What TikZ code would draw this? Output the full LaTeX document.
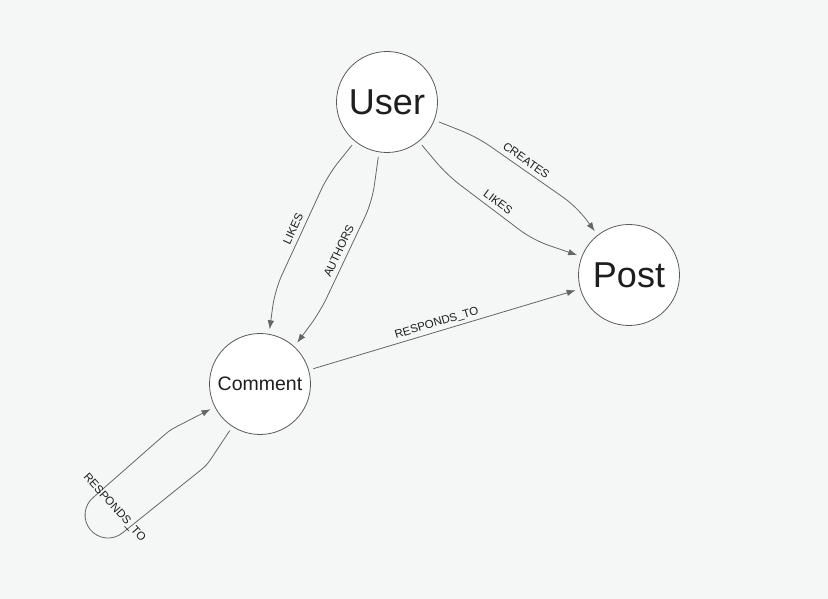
\documentclass[tikz,border=0pt]{standalone}
\usepackage{fontspec}
\setmainfont{Liberation Sans}
\usetikzlibrary{arrows.meta}
\definecolor{bg}{HTML}{F5F6F6}
\definecolor{edgec}{HTML}{666666}
\definecolor{ring}{HTML}{5A5A5A}
\definecolor{ink}{HTML}{1E1E1E}
\begin{document}
\begin{tikzpicture}[x=1pt,y=1pt,
  entity/.style={circle, draw=ring, fill=white, line width=0.8pt, minimum size=101pt, inner sep=0pt, outer sep=5pt, text=ink},
  bigtext/.style={font=\fontsize{36}{40}\selectfont},
  midtext/.style={font=\fontsize{19.5}{22}\selectfont},
  rel/.style={draw=edgec, line width=0.8pt, rounded corners=16pt, -{Latex[length=9pt,width=6.5pt]}},
  lbl/.style={font=\fontsize{11.5}{13}\selectfont, text=ink, sloped, above=1.5pt, text depth=0pt, pos=0.5},
  looplbl/.style={font=\fontsize{11.5}{13}\selectfont, text=ink, text depth=0pt, inner sep=1pt}]
\fill[bg] (0,0) rectangle (828,599);
\useasboundingbox (0,0) rectangle (828,599);

\node[entity, bigtext] (User) at (387,497) {User};
\node[entity, bigtext] (Post) at (629,324) {Post};
\node[entity, midtext] (Comment) at (260,215) {Comment};

% User -> Post
\draw[rel] (User.-21) -- (477,462) -- node[lbl, pos=0.44] (lCreates) {CREATES} (577,392) -- (Post.128);
\draw[rel] (User.-51) -- (447,424) -- node[lbl, pos=0.53] (lLikesP) {LIKES} (533,359) -- (Post.159);

% User -> Comment
\draw[rel] (User.-129) -- (328,424) -- node[lbl, pos=0.5] (lLikesC) {LIKES} (275,309) -- (Comment.80);
\draw[rel] (User.-99) -- (372,397) -- node[lbl, pos=0.48] (lAuthors) {AUTHORS} (320,287) -- (Comment.48);

% Comment -> Post
\draw[rel] (Comment.16) -- node[lbl, pos=0.48] (lResp) {RESPONDS\_TO} (Post.196);

% Comment self loop
\draw[rel, sharp corners] (Comment.237) -- (214.7,145.7) .. controls (207,134) .. (196.1,125.2)
  -- (122.5,66.1) arc[start angle=-51, end angle=-231, radius=23]
  -- (159.5,159.8) .. controls (170,169) .. (182.5,175.4) -- (Comment.207);
\node[looplbl, rotate=-48] (lLoop) at (115,92) {RESPONDS\_TO};
\end{tikzpicture}
\end{document}
